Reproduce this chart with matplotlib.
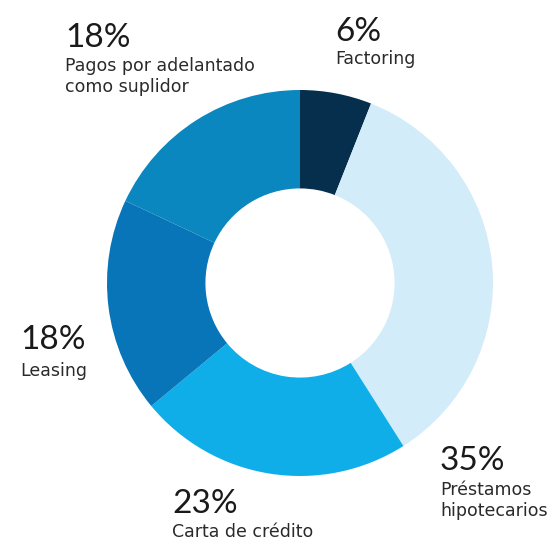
import matplotlib.pyplot as plt

plt.rcParams["font.family"] = ["Lato", "DejaVu Sans"]

# Financing instruments share (%), clockwise from 12 o'clock
labels = ["Factoring", "Préstamos\nhipotecarios", "Carta de crédito",
          "Leasing", "Pagos por adelantado\ncomo suplidor"]
shares = [6, 35, 23, 18, 18]
colors = ["#062f4d", "#d3ecf9", "#10aee8", "#0775b8", "#0a87be"]

W, H = 550, 549
fig = plt.figure(figsize=(W / 100, H / 100), dpi=100)
ax = fig.add_axes([0, 0, 1, 1])

# work in pixel-like coordinates (y measured from the top)
cx, cy, r = 300, 283, 193
ax.pie(shares, colors=colors, startangle=90, counterclock=False,
       center=(cx, H - cy), radius=r,
       wedgeprops=dict(width=r * 0.51, linewidth=0))

ax.set_xlim(0, W)
ax.set_ylim(0, H)
ax.set_aspect("equal", adjustable="box")
ax.axis("off")

# label anchors: (left x, top y) for the number, top y for the text
label_pos = [(335, 17, 50), (440, 446, 481), (172, 489, 523),
             (20, 325, 362), (65, 23, 57)]

for name, val, (x, y_num, y_txt) in zip(labels, shares, label_pos):
    ax.text(x, H - y_num, f"{val}%", fontsize=24, color="#1a1a1a",
            ha="left", va="top")
    ax.text(x, H - y_txt, name, fontsize=12.5, color="#2a2a2a",
            ha="left", va="top", linespacing=1.2, family="DejaVu Sans")

fig.savefig("out.png", dpi=100)
